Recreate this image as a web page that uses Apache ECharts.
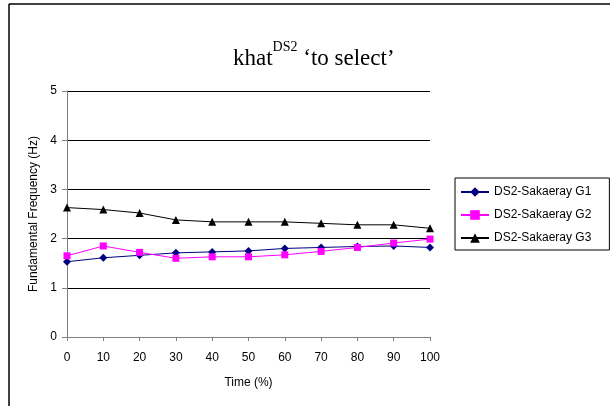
<!DOCTYPE html>
<html>
<head>
<meta charset="utf-8">
<script src="https://cdn.jsdelivr.net/npm/echarts@6/dist/echarts.min.js"></script>
<style>
html,body{margin:0;padding:0;background:#fff;}
#c{width:610px;height:406px;}
</style>
</head>
<body>
<div id="c"></div>
<script>
var timePct = [0, 10, 20, 30, 40, 50, 60, 70, 80, 90, 100];
var g1 = [1.53, 1.61, 1.66, 1.71, 1.73, 1.75, 1.80, 1.82, 1.84, 1.85, 1.82];
var g2 = [1.65, 1.85, 1.72, 1.60, 1.63, 1.63, 1.67, 1.74, 1.82, 1.91, 1.99];
var g3 = [2.63, 2.59, 2.52, 2.38, 2.34, 2.34, 2.34, 2.31, 2.28, 2.28, 2.21];
var seriesNames = ['DS2-Sakaeray G1', 'DS2-Sakaeray G2', 'DS2-Sakaeray G3'];

function pairs(v){ return timePct.map(function(t,i){ return [t, v[i]]; }); }

var chart = echarts.init(document.getElementById('c'), null, {renderer:'canvas'});
var font = 'Liberation Sans, Arial, sans-serif';
var serif = 'Liberation Serif, Times New Roman, serif';
chart.setOption({
  animation: false,
  backgroundColor: '#fff',
  title: {
    left: 228, top: 35,
    text: '{a|khat}{b|DS2}{a| \u2018to select\u2019}',
    textStyle: {
      fontWeight: 'normal',
      rich: {
        a: {fontFamily: serif, fontSize: 23, fontWeight: 'normal', color: '#000', verticalAlign: 'bottom', lineHeight: 30},
        b: {fontFamily: serif, fontSize: 14, fontWeight: 'normal', color: '#000', verticalAlign: 'top', lineHeight: 30}
      }
    }
  },
  grid: {left: 67, right: 180, top: 91, bottom: 69, containLabel: false},
  legend: {
    orient: 'vertical', left: 455, top: 178, width: 154,
    padding: [8, 18, 6, 5],
    itemWidth: 28, itemHeight: 12, itemGap: 11,
    borderColor: '#000', borderWidth: 1,
    textStyle: {fontFamily: font, fontSize: 12, color: '#000', padding: [0,0,0,0]},
    data: seriesNames
  },
  xAxis: {
    type: 'value', min: 0, max: 100, interval: 10,
    name: 'Time (%)', nameLocation: 'middle', nameGap: 40,
    nameTextStyle: {fontFamily: font, fontSize: 12, color: '#000'},
    axisLine: {lineStyle: {color: '#808080', width: 1}},
    axisTick: {show: true, inside: false, length: 4, lineStyle: {color: '#808080'}},
    axisLabel: {fontFamily: font, fontSize: 12, color: '#000', margin: 15},
    splitLine: {show: false}
  },
  yAxis: {
    type: 'value', min: 0, max: 5, interval: 1,
    name: 'Fundamental Frequency (Hz)', nameLocation: 'middle', nameGap: 25,
    nameTextStyle: {fontFamily: font, fontSize: 12, color: '#000'},
    axisLine: {show: true, lineStyle: {color: '#808080', width: 1}},
    axisTick: {show: true, inside: false, length: 5, lineStyle: {color: '#808080'}},
    axisLabel: {fontFamily: font, fontSize: 12, color: '#000', margin: 10},
    splitLine: {show: true, lineStyle: {color: '#000', width: 1}}
  },
  graphic: [
    {type: 'line', shape: {x1: 9, y1: 4, x2: 610, y2: 4}, style: {stroke: '#000', lineWidth: 1.5}, silent: true},
    {type: 'line', shape: {x1: 9, y1: 4, x2: 9, y2: 406}, style: {stroke: '#000', lineWidth: 1.5}, silent: true}
  ],
  series: [
    {name: seriesNames[0], type: 'line', data: pairs(g1), symbol: 'diamond', symbolSize: 8,
     lineStyle: {color: '#000080', width: 1}, itemStyle: {color: '#000080'}},
    {name: seriesNames[1], type: 'line', data: pairs(g2), symbol: 'rect', symbolSize: 7,
     lineStyle: {color: '#FF00FF', width: 1}, itemStyle: {color: '#FF00FF'}},
    {name: seriesNames[2], type: 'line', data: pairs(g3), symbol: 'triangle', symbolSize: 8,
     lineStyle: {color: '#000', width: 1}, itemStyle: {color: '#000'}}
  ]
});
</script>
</body>
</html>
